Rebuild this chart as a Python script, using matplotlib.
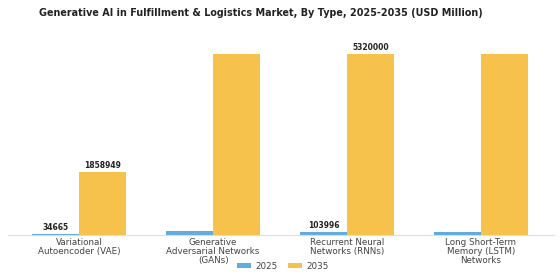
import numpy as np
import matplotlib.pyplot as plt

categories = ['Variational\nAutoencoder (VAE)', 'Generative\nAdversarial Networks\n(GANs)',
              'Recurrent Neural\nNetworks (RNNs)', 'Long Short-Term\nMemory (LSTM)\nNetworks']
values_2025 = [34665, 125000, 103996, 98000]
values_2035 = [1858949, 5320000, 5320000, 5320000]
# only these bars carry a label in the source picture
labels_2025 = ['34665', None, '103996', None]
labels_2035 = ['1858949', None, '5320000', None]

fig = plt.figure(figsize=(5.6, 2.8), dpi=100)
ax = fig.add_axes([0.015, 0.16, 0.975, 0.71])

x = np.arange(len(categories))
w = 0.35
b1 = ax.bar(x - w / 2, values_2025, w, color='#5DADE2', label='2025')
b2 = ax.bar(x + w / 2, values_2035, w, color='#F6C24C', label='2035')

for bars, labs in ((b1, labels_2025), (b2, labels_2035)):
    for bar, lab in zip(bars, labs):
        if lab is None:
            continue
        ax.text(bar.get_x() + bar.get_width() / 2, bar.get_height() + 60000, lab,
                ha='center', va='bottom', fontsize=5.5, fontweight='bold', color='#222222')

ax.set_xlim(-0.53, 3.55)
ax.set_ylim(0, 5.85e6)
ax.set_xticks(x)
ax.set_xticklabels(categories, fontsize=6.3, color='#444444', linespacing=1.0)
ax.tick_params(axis='x', length=0, pad=2)
ax.set_yticks([])
for s in ['top', 'right', 'left']:
    ax.spines[s].set_visible(False)
ax.spines['bottom'].set_color('#dddddd')
ax.spines['bottom'].set_linewidth(0.8)

fig.suptitle('Generative AI in Fulfillment & Logistics Market, By Type, 2025-2035 (USD Million)',
             fontsize=6.9, fontweight='bold', color='#222222', x=0.466, y=0.972)
fig.legend(loc='lower center', ncol=2, frameon=False, fontsize=6.3, bbox_to_anchor=(0.505, 0.005),
           handlelength=1.6, handleheight=0.6, handletextpad=0.5, columnspacing=1.2,
           labelcolor='#444444')

fig.savefig('out.png', dpi=100)
